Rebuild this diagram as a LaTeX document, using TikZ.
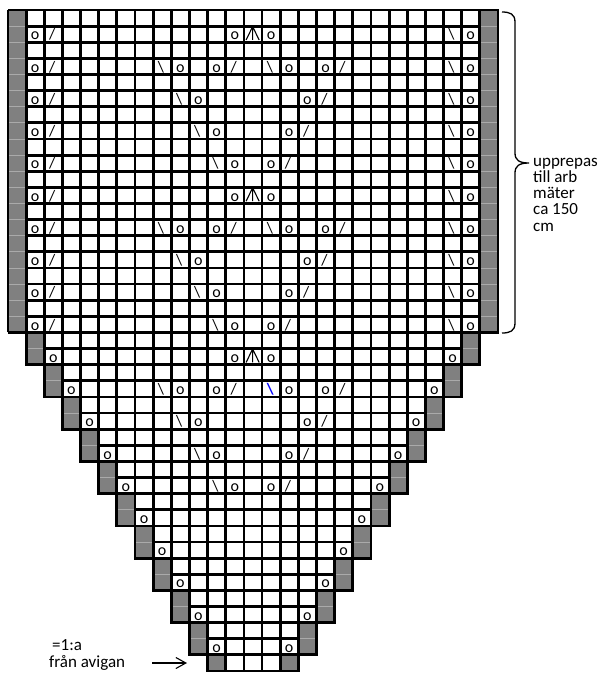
\documentclass[tikz,border=0pt]{standalone}
\usepackage{fontspec}
\setmainfont{Carlito}
\usetikzlibrary{arrows.meta}
\definecolor{knitgray}{RGB}{128,128,128}
\definecolor{sepgray}{RGB}{170,170,170}
\newcommand\ksl{/}
\newcommand\kbs{\textbackslash}
\tikzset{
  gridline/.style={draw=black,line width=2.8pt},
  graycell/.style={fill=knitgray,draw=sepgray,line width=0.8pt},
  outline/.style={draw=black,line width=2.8pt},
  thinedge/.style={draw=black,line width=1.2pt},
  sym/.style={anchor=base west,inner sep=0pt,font=\fontsize{16}{18}\selectfont},
  apexsym/.style={line width=1.1pt},
  lbl/.style={anchor=base west,inner sep=0pt,font=\fontsize{17}{17}\selectfont},
  note/.style={anchor=base west,inner sep=0pt,font=\fontsize{17}{17}\selectfont},
  bracestyle/.style={line width=1.3pt},
  arrowstyle/.style={line width=1.1pt,-{Straight Barb[length=10pt,width=11pt]}},
}
\begin{document}
\begin{tikzpicture}[x=1pt,y=-1pt]
\useasboundingbox (0,0) rectangle (608,673);
\fill[white] (0,0) rectangle (608,673);
\begin{scope}[shift={(8,10)},x=18.148pt,y=-16.122pt]
% gray edge cells
\foreach \r in {1,...,41}{
  \pgfmathtruncatemacro\L{\r<21 ? 0 : int((\r-21)/2)+1}
  \pgfmathtruncatemacro\R{26-\L}
  \path[graycell] (\L,\r-1) rectangle ++(1,1);
  \path[graycell] (\R,\r-1) rectangle ++(1,1);
}
% white cells
\foreach \r in {1,...,41}{
  \pgfmathtruncatemacro\L{\r<21 ? 0 : int((\r-21)/2)+1}
  \pgfmathtruncatemacro\Lp{\L+1}
  \pgfmathtruncatemacro\Rm{25-\L}
  \foreach \c in {\Lp,...,\Rm}{
    \path[gridline] (\c,\r-1) rectangle ++(1,1);
  }
}
% outline
\path[outline] (0,0) -- (27,0) -- (27,20) -- (26,20) -- (26,22) -- (25,22) -- (25,24) -- (24,24) -- (24,26) -- (23,26) -- (23,28) -- (22,28) -- (22,30) -- (21,30) -- (21,32) -- (20,32) -- (20,34) -- (19,34) -- (19,36) -- (18,36) -- (18,38) -- (17,38) -- (17,40) -- (16,40) -- (16,41) -- (11,41) -- (11,40) -- (10,40) -- (10,38) -- (9,38) -- (9,36) -- (8,36) -- (8,34) -- (7,34) -- (7,32) -- (6,32) -- (6,30) -- (5,30) -- (5,28) -- (4,28) -- (4,26) -- (3,26) -- (3,24) -- (2,24) -- (2,22) -- (1,22) -- (1,20) -- (0,20);
\path[thinedge] (0,20) -- (0,0);
% edge symbols, full-width part
\foreach \rr in {2,4,...,20}{
  \foreach \c/\s in {1/o,2/\ksl,24/\kbs,25/o}{
    \node[sym] (e-\c-\rr) at (\c+0.25,\rr-0.15) {\s};
  }
}
% edge symbols, tapered part
\foreach \rr in {22,24,...,40}{
  \pgfmathtruncatemacro\ca{(\rr-20)/2+1}
  \pgfmathtruncatemacro\cb{25-(\rr-20)/2}
  \node[sym] (t-\ca-\rr) at (\ca+0.25,\rr-0.15) {o};
  \node[sym] (t-\cb-\rr) at (\cb+0.25,\rr-0.15) {o};
}
% lace pattern
\foreach \rr in {2,12,22}{
  \foreach \c/\s in {12/o,14/o}{
    \node[sym] (p-\c-\rr) at (\c+0.25,\rr-0.15) {\s};
  }
  \draw[apexsym] (13.12,\rr-0.14) -- (13.48,\rr-0.97) -- (13.84,\rr-0.14)
                 (13.48,\rr-0.97) -- (13.48,\rr-0.14);
}
\foreach \rr in {4,14,24}{
  \foreach \c/\s in {8/\kbs,9/o,11/o,12/\ksl,15/o,17/o,18/\ksl}{
    \node[sym] (p-\c-\rr) at (\c+0.25,\rr-0.15) {\s};
  }
}
\foreach \rr in {4,14}{
  \node[sym] (p-14-\rr) at (14.25,\rr-0.15) {\kbs};
}
\node[sym,text=blue,font=\fontsize{16}{18}\selectfont\bfseries] (p-14-24) at (14.25,24-0.15) {\kbs};
\foreach \rr in {6,16,26}{
  \foreach \c/\s in {9/\kbs,10/o,16/o,17/\ksl}{
    \node[sym] (p-\c-\rr) at (\c+0.25,\rr-0.15) {\s};
  }
}
\foreach \rr in {8,18,28}{
  \foreach \c/\s in {10/\kbs,11/o,15/o,16/\ksl}{
    \node[sym] (p-\c-\rr) at (\c+0.25,\rr-0.15) {\s};
  }
}
\foreach \rr in {10,20,30}{
  \foreach \c/\s in {11/\kbs,12/o,14/o,15/\ksl}{
    \node[sym] (p-\c-\rr) at (\c+0.25,\rr-0.15) {\s};
  }
}
\end{scope}
% brace
\draw[bracestyle] (502,12) .. controls (510,12) and (515,14) .. (515,22) -- (515,153)
  .. controls (515,160) and (519,163) .. (529,163)
  .. controls (519,163) and (515,166) .. (515,173) -- (515,323)
  .. controls (515,331) and (510,333) .. (502,333);
\node[lbl] (l1) at (533,166) {upprepas};
\node[lbl] (l2) at (533,182.3) {till arb};
\node[lbl] (l3) at (533,198.6) {mäter};
\node[lbl] (l4) at (533,214.9) {ca 150};
\node[lbl] (l5) at (533,231.2) {cm};
% start note
\node[note] (n1) at (52,650) {=1:a};
\node[note] (n2) at (49,667) {från avigan};
\coordinate (arrS) at (152,663);
\coordinate (arrE) at (187,663);
\draw[arrowstyle] (arrS) -- (arrE);
\end{tikzpicture}
\end{document}
